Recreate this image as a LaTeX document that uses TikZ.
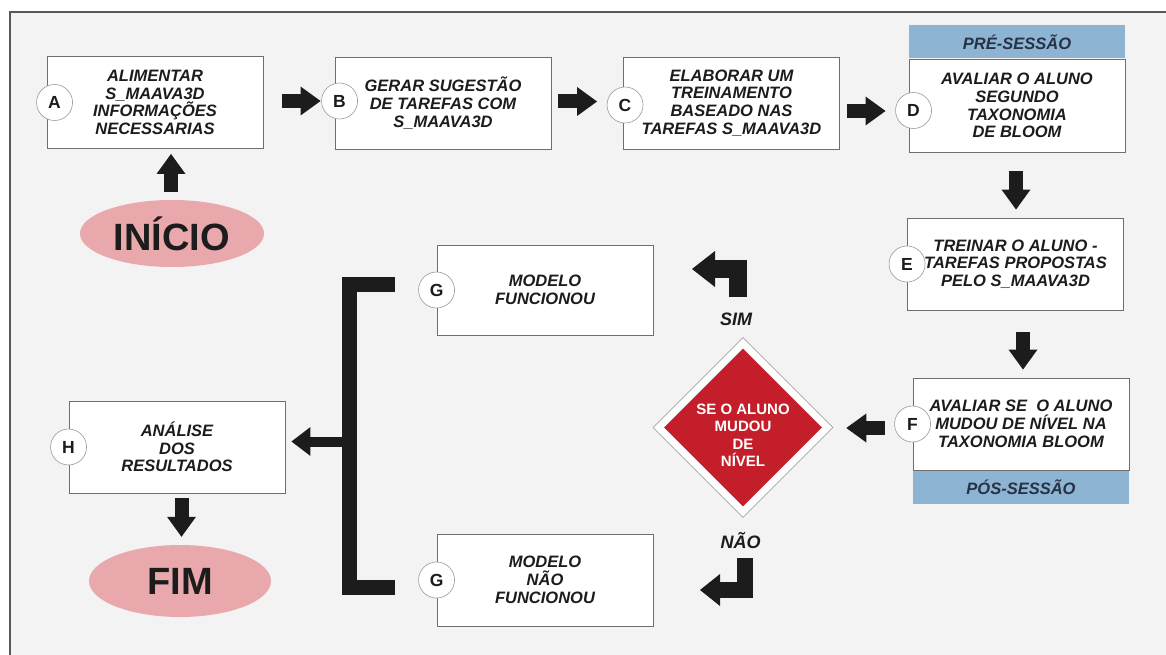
\documentclass[tikz,border=0pt]{standalone}
\usepackage{fontspec}
\setmainfont{Liberation Sans}
\usepackage{xcolor}
\usetikzlibrary{arrows.meta,shapes.geometric,positioning}

\definecolor{fundo}{HTML}{F3F3F3}
\definecolor{tinta}{HTML}{1C1C1C}
\definecolor{borda}{HTML}{6E6E6E}
\definecolor{rosa}{HTML}{E8A8AC}
\definecolor{vermelho}{HTML}{C41E2A}
\definecolor{azul}{HTML}{8DB4D3}
\definecolor{azuleta}{HTML}{263246}

\begin{document}
\begin{tikzpicture}[x=1pt,y=-1pt,
  caixa/.style={draw=borda,fill=white,line width=0.9pt,minimum width=216pt,
                minimum height=92pt,inner sep=0pt,align=center,text=tinta,
                font=\fontsize{16.5}{17.7}\selectfont\bfseries\itshape},
  letra/.style={circle,draw=gray!80,fill=white,line width=0.6pt,minimum size=36pt,
                inner sep=0pt,text=tinta,font=\fontsize{17.5}{17.5}\selectfont\bfseries},
  faixa/.style={fill=azul,minimum width=216pt,minimum height=33pt,inner sep=0pt,
                text=azuleta,font=\fontsize{16.5}{16.5}\selectfont\bfseries\itshape},
  elipse/.style={ellipse,fill=rosa,inner sep=0pt,text=tinta,
                 font=\fontsize{38}{38}\selectfont\bfseries},
  rotulo/.style={text=tinta,font=\fontsize{18}{18}\selectfont\bfseries\itshape},
  seta/.style={draw=tinta,line width=14pt,
               -{Triangle[length=20pt,width=29pt,line width=0pt]}},
  curva/.style={draw=tinta,line width=18pt,line join=miter,
                -{Triangle[length=23pt,width=36pt,line width=0pt]}},
  barra/.style={draw=tinta,line width=15pt,line join=miter}]

  \useasboundingbox (0,0) rectangle (1166,655);
  \fill[fundo] (10,12) rectangle (1166,655);
  \draw[borda!80!black,line width=1.2pt] (10,655) -- (10,12) -- (1166,12);

  % etapas
  \node[caixa] (alim) at (155,102.5) {ALIMENTAR\\S\_MAAVA3D\\INFORMAÇÕES\\NECESSARIAS};
  \node[caixa] (ger)  at (443,103)   {GERAR SUGESTÃO\\DE TAREFAS COM\\S\_MAAVA3D};
  \node[caixa] (elab) at (731.5,103) {ELABORAR UM\\TREINAMENTO\\BASEADO NAS\\TAREFAS S\_MAAVA3D};
  \node[caixa,minimum height=93pt] (aval) at (1017,105.5) {AVALIAR O ALUNO\\SEGUNDO\\TAXONOMIA\\DE BLOOM};
  \node[faixa,above=0pt of aval] (pre) {PRÉ-SESSÃO};
  \node[caixa] (trei) at (1015.5,264) {TREINAR O ALUNO -\\TAREFAS PROPOSTAS\\PELO S\_MAAVA3D};
  \node[caixa] (mud)  at (1021,424)   {AVALIAR SE\ \ O ALUNO\\MUDOU DE NÍVEL NA\\TAXONOMIA BLOOM};
  \node[faixa,below=0pt of mud] (pos) {PÓS-SESSÃO};
  \node[caixa,minimum height=90pt] (fun) at (545,290) {MODELO\\FUNCIONOU};
  \node[caixa] (nfun) at (545,580) {MODELO\\NÃO\\FUNCIONOU};
  \node[caixa] (ana)  at (177,447) {ANÁLISE\\DOS\\RESULTADOS};

  \node[elipse,minimum width=184pt,minimum height=67pt] (ini) at (172,233.5) {INÍCIO};
  \node[elipse,minimum width=182pt,minimum height=72pt] (fim) at (180,581) {FIM};

  % decisao
  \node[diamond,draw=gray!70,fill=white,line width=0.6pt,minimum width=180pt,
        minimum height=180pt,inner sep=0pt] (dec) at (743,427.5) {};
  \node[diamond,fill=vermelho,minimum width=158pt,minimum height=158pt,
        inner sep=0pt] (decv) at (dec) {};
  \node[text=white,align=center,font=\fontsize{15}{17.5}\selectfont\bfseries]
    (dect) at ([yshift=-8pt]dec.center) {SE O ALUNO\\MUDOU\\DE\\NÍVEL};

  % letras
  \node[letra] (la)  at ([xshift=8pt]alim.west) {A};
  \node[letra] (lb)  at ([xshift=5pt,yshift=2pt]ger.west) {B};
  \node[letra] (lc)  at ([xshift=2pt,yshift=-2pt]elab.west) {C};
  \node[letra] (ld)  at ([xshift=5pt,yshift=-5pt]aval.west) {D};
  \node[letra] (le)  at (trei.west) {E};
  \node[letra] (lf)  at (mud.west) {F};
  \node[letra] (lg1) at (fun.west) {G};
  \node[letra] (lg2) at (nfun.west) {G};
  \node[letra] (lh)  at (ana.west) {H};

  % setas
  \draw[seta,shorten <=19pt,shorten >=14pt] ([yshift=1.5pt]alim.east) -- ([yshift=2pt]ger.west);
  \draw[seta,shorten <=7pt,shorten >=26pt] ([yshift=1.5pt]ger.east) -- ([yshift=1.5pt]elab.west);
  \draw[seta,shorten <=7pt,shorten >=23pt] ([yshift=-8pt]elab.east) -- ([yshift=-5.5pt]aval.west);
  \draw[seta,shorten <=19pt,shorten >=8pt] ([xshift=-1pt]aval.south) -- ([xshift=0.5pt]trei.north);
  \draw[seta,shorten <=22pt,shorten >=8pt] ([xshift=7.5pt]trei.south) -- ([xshift=2pt]mud.north);
  \draw[seta,shorten <=28pt,shorten >=13pt] ([yshift=-4pt]mud.west) -- ([yshift=-0.5pt]dec.east);
  \draw[seta,shorten <=8pt,shorten >=5pt] ([xshift=-1pt]ini.north) -- ([xshift=16pt]alim.south);
  \draw[seta,shorten <=5pt,shorten >=8pt] ([xshift=4.5pt]ana.south) -- ([xshift=1.5pt]fim.north);

  \coordinate (simini) at (737.5,297);
  \coordinate (simfim) at (692,269);
  \draw[curva] (simini) |- (simfim);
  \node[rotulo,anchor=base] (lsim) at (736,325) {SIM};

  \coordinate (naoini) at (745,558);
  \coordinate (naofim) at (700,590);
  \draw[curva,line width=16pt,-{Triangle[length=20pt,width=32pt,line width=0pt]}]
    (naoini) |- (naofim);
  \node[rotulo,anchor=base] (lnao) at (740.5,548) {NÃO};

  % chave
  \coordinate (bsup) at ([xshift=-42pt,yshift=6pt]fun.west);
  \coordinate (binf) at ([xshift=-42pt,yshift=-7.5pt]nfun.west);
  \coordinate (bmeio) at (350,441.5);
  \draw[barra] (bsup) -- ++(-45,0) |- (binf);
  \draw[seta,line width=10pt,shorten >=6pt,
        -{Triangle[length=19pt,width=29pt,line width=0pt]}] (bmeio) -- (ana.east |- bmeio);

\end{tikzpicture}
\end{document}
